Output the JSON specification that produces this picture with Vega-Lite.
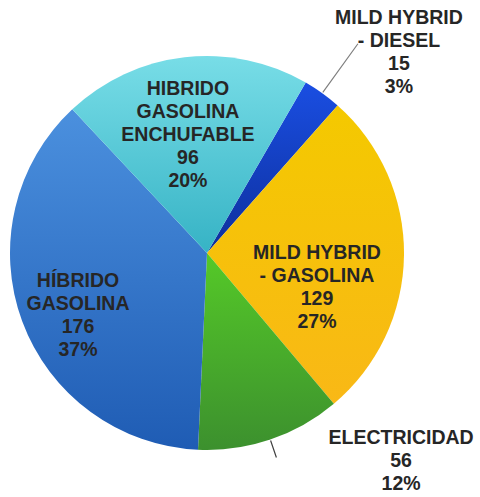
{
  "$schema": "https://vega.github.io/schema/vega-lite/v6.json",
  "width": 414,
  "height": 490,
  "autosize": "none",
  "padding": {"left": 0, "top": 8, "right": 66, "bottom": 0},
  "background": "white",
  "config": {"view": {"stroke": null}},
  "data": {
    "values": [
      {"categoria": "MILD HYBRID\n- DIESEL", "valor": 15, "orden": 1},
      {"categoria": "MILD HYBRID\n- GASOLINA", "valor": 129, "orden": 2},
      {"categoria": "ELECTRICIDAD", "valor": 56, "orden": 3},
      {"categoria": "HÍBRIDO\nGASOLINA", "valor": 176, "orden": 4},
      {"categoria": "HIBRIDO\nGASOLINA\nENCHUFABLE", "valor": 96, "orden": 5}
    ]
  },
  "transform": [
    {"window": [{"op": "sum", "field": "valor", "as": "fin"}], "sort": [{"field": "orden"}], "frame": [null, 0]},
    {"joinaggregate": [{"op": "sum", "field": "valor", "as": "total"}]},
    {"calculate": "datum.fin - datum.valor", "as": "inicio"},
    {"calculate": "datum.fin - datum.valor / 2", "as": "medio"},
    {"calculate": "datum.categoria + '\\n' + datum.valor + '\\n' + round(datum.valor / datum.total * 100) + '%'", "as": "texto"}
  ],
  "layer": [
    {
      "transform": [{"filter": "datum.orden == 1"}],
      "mark": {"type": "arc", "outerRadius": 197, "fill": {"gradient": "linear", "x1": 0, "y1": 0, "x2": 0, "y2": 1, "stops": [{"offset": 0, "color": "#1a4ee2"}, {"offset": 1, "color": "#0d2f9c"}]}},
      "encoding": {
        "theta": {"field": "fin", "type": "quantitative", "stack": null, "scale": {"range": [0.525, 6.808], "zero": true, "nice": false}},
        "theta2": {"field": "inicio"}
      }
    },
    {
      "transform": [{"filter": "datum.orden == 2"}],
      "mark": {"type": "arc", "outerRadius": 197, "fill": {"gradient": "linear", "x1": 0, "y1": 0, "x2": 0, "y2": 1, "stops": [{"offset": 0, "color": "#f4c900"}, {"offset": 1, "color": "#f9b816"}]}},
      "encoding": {
        "theta": {"field": "fin", "type": "quantitative", "stack": null, "scale": {"range": [0.525, 6.808], "zero": true, "nice": false}},
        "theta2": {"field": "inicio"}
      }
    },
    {
      "transform": [{"filter": "datum.orden == 3"}],
      "mark": {"type": "arc", "outerRadius": 197, "fill": {"gradient": "linear", "x1": 0, "y1": 0, "x2": 0, "y2": 1, "stops": [{"offset": 0, "color": "#55c928"}, {"offset": 1, "color": "#3c902e"}]}},
      "encoding": {
        "theta": {"field": "fin", "type": "quantitative", "stack": null, "scale": {"range": [0.525, 6.808], "zero": true, "nice": false}},
        "theta2": {"field": "inicio"}
      }
    },
    {
      "transform": [{"filter": "datum.orden == 4"}],
      "mark": {"type": "arc", "outerRadius": 197, "fill": {"gradient": "linear", "x1": 0, "y1": 0, "x2": 0, "y2": 1, "stops": [{"offset": 0, "color": "#4b90de"}, {"offset": 1, "color": "#1f5cb4"}]}},
      "encoding": {
        "theta": {"field": "fin", "type": "quantitative", "stack": null, "scale": {"range": [0.525, 6.808], "zero": true, "nice": false}},
        "theta2": {"field": "inicio"}
      }
    },
    {
      "transform": [{"filter": "datum.orden == 5"}],
      "mark": {"type": "arc", "outerRadius": 197, "fill": {"gradient": "linear", "x1": 0, "y1": 0, "x2": 0, "y2": 1, "stops": [{"offset": 0, "color": "#78dde7"}, {"offset": 1, "color": "#36b3c5"}]}},
      "encoding": {
        "theta": {"field": "fin", "type": "quantitative", "stack": null, "scale": {"range": [0.525, 6.808], "zero": true, "nice": false}},
        "theta2": {"field": "inicio"}
      }
    },
    {
      "transform": [{"filter": "datum.orden == 1"}],
      "mark": {"type": "arc", "filled": false, "innerRadius": 198, "outerRadius": 258, "stroke": "#7f7f7f", "strokeWidth": 1.2},
      "encoding": {
        "theta": {"field": "medio", "type": "quantitative", "stack": null, "scale": {"range": [0.525, 6.808], "zero": true, "nice": false}},
        "theta2": {"field": "medio"}
      }
    },
    {
      "transform": [{"filter": "datum.orden == 3"}],
      "mark": {"type": "arc", "filled": false, "innerRadius": 198, "outerRadius": 216, "stroke": "#404040", "strokeWidth": 1.2},
      "encoding": {
        "theta": {"field": "medio", "type": "quantitative", "stack": null, "scale": {"range": [0.525, 6.808], "zero": true, "nice": false}},
        "theta2": {"field": "medio"}
      }
    },
    {
      "transform": [{"filter": "datum.orden == 1"}],
      "mark": {"type": "text", "radius": 270, "dx": 34, "dy": -16, "font": "Liberation Sans", "fontSize": 19.5, "fontWeight": "bold", "lineBreak": "\n", "lineHeight": 23, "color": "#262626", "align": "center", "baseline": "middle"},
      "encoding": {
        "theta": {"field": "medio", "type": "quantitative", "stack": null, "scale": {"range": [0.525, 6.808], "zero": true, "nice": false}},
        "text": {"field": "texto"}
      }
    },
    {
      "transform": [{"filter": "datum.orden == 2"}],
      "mark": {"type": "text", "radius": 120, "dx": -10, "dy": -1, "font": "Liberation Sans", "fontSize": 19.5, "fontWeight": "bold", "lineBreak": "\n", "lineHeight": 23, "color": "#262626", "align": "center", "baseline": "middle"},
      "encoding": {
        "theta": {"field": "medio", "type": "quantitative", "stack": null, "scale": {"range": [0.525, 6.808], "zero": true, "nice": false}},
        "text": {"field": "texto"}
      }
    },
    {
      "transform": [{"filter": "datum.orden == 3"}],
      "mark": {"type": "text", "radius": 240, "dx": 117, "dy": -42, "font": "Liberation Sans", "fontSize": 19.5, "fontWeight": "bold", "lineBreak": "\n", "lineHeight": 23, "color": "#262626", "align": "center", "baseline": "middle"},
      "encoding": {
        "theta": {"field": "medio", "type": "quantitative", "stack": null, "scale": {"range": [0.525, 6.808], "zero": true, "nice": false}},
        "text": {"field": "texto"}
      }
    },
    {
      "transform": [{"filter": "datum.orden == 4"}],
      "mark": {"type": "text", "radius": 120, "dx": -16.4, "dy": -14, "font": "Liberation Sans", "fontSize": 19.5, "fontWeight": "bold", "lineBreak": "\n", "lineHeight": 23, "color": "#262626", "align": "center", "baseline": "middle"},
      "encoding": {
        "theta": {"field": "medio", "type": "quantitative", "stack": null, "scale": {"range": [0.525, 6.808], "zero": true, "nice": false}},
        "text": {"field": "texto"}
      }
    },
    {
      "transform": [{"filter": "datum.orden == 5"}],
      "mark": {"type": "text", "radius": 120, "dx": -5.4, "dy": -44.5, "font": "Liberation Sans", "fontSize": 19.5, "fontWeight": "bold", "lineBreak": "\n", "lineHeight": 23, "color": "#262626", "align": "center", "baseline": "middle"},
      "encoding": {
        "theta": {"field": "medio", "type": "quantitative", "stack": null, "scale": {"range": [0.525, 6.808], "zero": true, "nice": false}},
        "text": {"field": "texto"}
      }
    }
  ]
}
